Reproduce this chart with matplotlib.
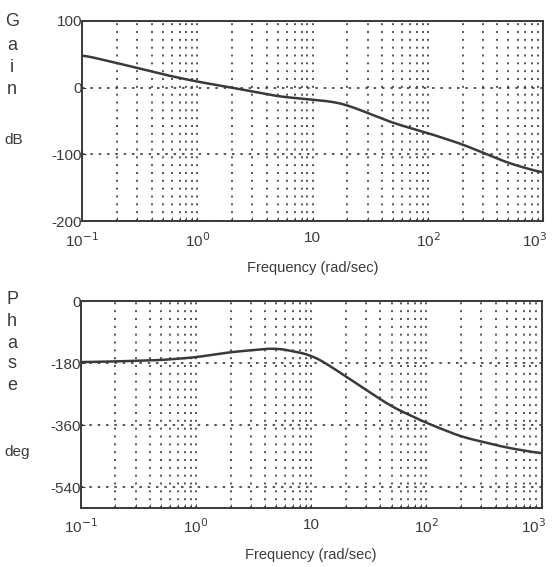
import numpy as np
import matplotlib
matplotlib.use('Agg')
from matplotlib import pyplot as plt
from matplotlib.ticker import LogLocator, FixedLocator, NullFormatter
from matplotlib.transforms import ScaledTranslation

plt.rcParams['font.family'] = ['Liberation Sans', 'DejaVu Sans']

# frequency samples (rad/sec) with gain (dB) and phase (deg)
freq = [0.1, 0.2, 0.5, 1, 2, 5, 10, 15, 20, 30, 50, 100, 200, 500, 1000]
gain_db = [49, 37, 20, 9, 0, -13, -18, -21, -26, -38, -53, -68, -85, -113, -128]
phase_deg = [-177, -175, -171, -163, -148, -136, -156, -190, -219, -257, -306, -353, -393, -425, -442]

xticks = [0.1, 1, 10, 100, 1000]
xtick_labels = ['10$^{-1}$', '10$^{0}$', '10', '10$^{2}$', '10$^{3}$']
gain_ticks = [100, 0, -100, -200]
phase_ticks = [0, -180, -360, -540]

ink = '#3a3a3a'

fig = plt.figure(figsize=(5.52, 5.67), dpi=100)
ax_g = fig.add_axes([0.149, 0.610, 0.835, 0.353])
ax_p = fig.add_axes([0.146, 0.104, 0.835, 0.365])

# smooth the sampled points in log-frequency for drawing
w = np.logspace(-1, 3, 400)
lw = np.log10(w)
gain_curve = np.interp(lw, np.log10(freq), gain_db)
phase_curve = np.interp(lw, np.log10(freq), phase_deg)
kernel = np.ones(21) / 21
pad = 10
gain_curve = np.convolve(np.pad(gain_curve, pad, mode='edge'), kernel, mode='valid')
phase_curve = np.convolve(np.pad(phase_curve, pad, mode='edge'), kernel, mode='valid')


def style_axes(ax, yticks, ylim):
    ax.set_xscale('log')
    ax.set_xlim(0.1, 1000)
    ax.set_ylim(*ylim)
    ax.xaxis.set_major_locator(FixedLocator(xticks))
    ax.xaxis.set_minor_locator(LogLocator(base=10, subs=np.arange(2, 10)))
    ax.xaxis.set_minor_formatter(NullFormatter())
    ax.set_xticks(xticks)
    ax.set_xticklabels(xtick_labels)
    ax.set_yticks(yticks)
    ax.set_yticklabels([str(t) for t in yticks])
    ax.grid(True, which='both', axis='x', color=ink, linestyle=(0, (1.2, 3.5)), linewidth=1.2)
    ax.grid(True, which='major', axis='y', color=ink, linestyle=(0, (1.5, 3.5)), linewidth=1.2)
    ax.tick_params(axis='both', which='both', direction='in', length=3, color=ink,
                   labelsize=11, labelcolor=ink, pad=7)
    ax.tick_params(axis='y', pad=0)
    for s in ax.spines.values():
        s.set_color(ink)
        s.set_linewidth(1.4)
    ax.set_xlabel('Frequency (rad/sec)', fontsize=10.5, color=ink, labelpad=8)
    # keep the last decade label inside the figure
    last = ax.get_xticklabels()[-1]
    last.set_transform(last.get_transform() + ScaledTranslation(-6 / 72, 0, fig.dpi_scale_trans))


style_axes(ax_g, gain_ticks, (-200, 100))
ax_g.plot(w, gain_curve, color=ink, linewidth=1.8)

style_axes(ax_p, phase_ticks, (-600, 0))
ax_p.plot(w, phase_curve, color=ink, linewidth=1.8)

# stacked axis titles on the left
for ch, y in zip('Gain', [22, 45, 68, 90]):
    fig.text(12 / 552, 1 - y / 567, ch, fontsize=13, color=ink, ha='center', va='center')
fig.text(14 / 552, 1 - 140 / 567, 'dB', fontsize=11, color=ink, ha='center', va='center')
for ch, y in zip('Phase', [300, 322, 343, 364, 385]):
    fig.text(12 / 552, 1 - y / 567, ch, fontsize=13, color=ink, ha='center', va='center')
fig.text(17 / 552, 1 - 452 / 567, 'deg', fontsize=11, color=ink, ha='center', va='center')

fig.savefig('out.png', dpi=100)
